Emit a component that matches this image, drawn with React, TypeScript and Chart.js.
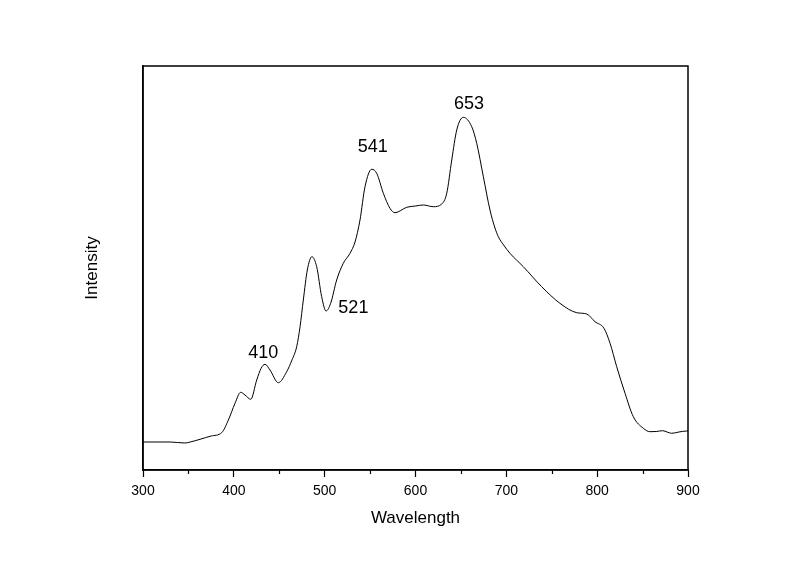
import React, { useEffect, useRef } from "react";
import { Chart, registerables } from "chart.js";

Chart.register(...registerables);

const wavelength = [300, 330, 346, 352, 362.8, 375, 386.6, 394, 401.3, 407.5, 412.3, 418.6, 425.2, 430, 434.3, 439.8, 449, 458.2, 464, 469.2, 472.9, 476.5, 480.9, 486, 491.2, 496.7, 501.5, 506.6, 513.2, 520.5, 527.9, 533.4, 538.9, 544.4, 551.8, 557.3, 564.6, 571.9, 577.4, 590.3, 600, 608.6, 619.6, 628.9, 634.4, 639.9, 645.4, 652.6, 661.9, 667.4, 674.7, 682, 687.5, 691.2, 697, 704, 718.7, 738.9, 759, 777.5, 788.5, 797.6, 807.5, 814.2, 821.5, 830.7, 839.8, 850.8, 858.2, 865, 872.2, 877, 882, 890, 898.6, 900];
const intensity = [28, 28, 27, 28, 30.7, 34, 37.3, 50, 66.7, 77.7, 75, 70.7, 90, 101.7, 105.7, 100, 87.3, 98.3, 110, 123.3, 143.3, 170, 200, 213.3, 203.3, 173.3, 159, 166.7, 190, 206.7, 216.7, 228, 250, 283.3, 300.7, 296.7, 276.7, 261.7, 257.3, 262.7, 264, 265, 263.3, 266, 276.7, 310, 340, 352.7, 343.3, 326.7, 293.3, 260, 242, 233.3, 225, 216.7, 203.3, 183.3, 166.7, 157.3, 156, 148.3, 141.7, 126.7, 103.3, 76.7, 53.3, 41.7, 38.3, 38.5, 39.3, 38, 36.7, 38, 39, 39];

const peakLabels = ["410", "521", "541", "653"];
const peakLabelX = [432.5, 531.6, 553, 659];
const peakLabelY = [117, 162, 323, 366];

const minorTicks = [350, 450, 550, 650, 750, 850];

const FONT = "Arial, 'Liberation Sans', sans-serif";

export default function App() {
  const ref = useRef<HTMLCanvasElement | null>(null);
  useEffect(() => {
    document.body.style.margin = "0";
    const canvas = ref.current!;
    const framePlugin = {
      id: "frame",
      afterDraw(chart: any) {
        const { ctx, chartArea: a, scales } = chart;
        ctx.save();
        ctx.strokeStyle = "#000";
        ctx.lineWidth = 1.5;
        ctx.strokeRect(a.left, a.top, a.right - a.left, a.bottom - a.top);
        ctx.lineWidth = 1.2;
        ctx.beginPath();
        for (const v of minorTicks) {
          const px = Math.round(scales.x.getPixelForValue(v)) + 0.5;
          ctx.moveTo(px, a.bottom);
          ctx.lineTo(px, a.bottom + 4);
        }
        ctx.stroke();
        ctx.fillStyle = "#000";
        ctx.font = `18px ${FONT}`;
        ctx.textAlign = "center";
        ctx.textBaseline = "middle";
        peakLabels.forEach((t, i) => {
          ctx.fillText(t, scales.x.getPixelForValue(peakLabelX[i]), scales.y.getPixelForValue(peakLabelY[i]));
        });
        ctx.restore();
      },
    };
    const chart = new Chart(canvas, {
      type: "line",
      data: {
        datasets: [
          {
            data: wavelength.map((x, i) => ({ x, y: intensity[i] })),
            borderColor: "#000",
            borderWidth: 1,
            pointRadius: 0,
            cubicInterpolationMode: "monotone",
            fill: false,
          },
        ],
      },
      options: {
        responsive: false,
        animation: false,
        layout: { padding: { left: 0, right: 112, top: 66, bottom: 0 } },
        plugins: { legend: { display: false }, tooltip: { enabled: false } },
        scales: {
          x: {
            type: "linear",
            min: 300,
            max: 900,
            afterFit: (s: any) => {
              s.height = 94;
            },
            ticks: { stepSize: 100, color: "#000", font: { size: 14, family: FONT }, padding: 6, maxRotation: 0 },
            grid: { drawOnChartArea: false, drawTicks: true, tickLength: 7, tickColor: "#000", tickWidth: 1.2 },
            border: { display: true, color: "#000", width: 1.5 },
            title: { display: true, text: "Wavelength", color: "#000", font: { size: 17, family: FONT }, padding: { top: 0, bottom: 35 } },
          },
          y: {
            type: "linear",
            min: 0,
            max: 404,
            afterFit: (s: any) => {
              s.width = 143;
            },
            ticks: { display: false },
            grid: { drawOnChartArea: false, drawTicks: false },
            border: { display: true, color: "#000", width: 1.5 },
            title: { display: true, text: "Intensity", color: "#000", font: { size: 17, family: FONT }, padding: { top: 82, bottom: 0 } },
          },
        },
      },
      plugins: [framePlugin],
    } as any);
    return () => chart.destroy();
  }, []);
  return (
    <div style={{ position: "absolute", left: 0, top: 0, width: 800, height: 564, background: "#fff" }}>
      <canvas ref={ref} width={800} height={564} />
    </div>
  );
}
